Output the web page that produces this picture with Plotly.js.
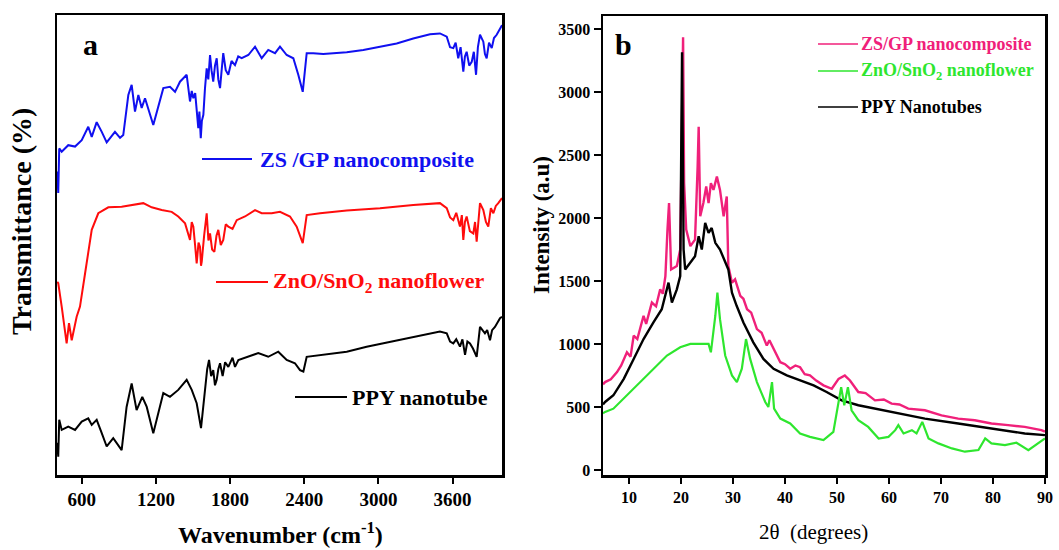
<!DOCTYPE html>
<html>
<head>
<meta charset="utf-8">
<script src="https://cdn.plot.ly/plotly-3.0.1.min.js"></script>
<style>html,body{margin:0;padding:0;background:#fff;}#chart{width:1059px;height:550px;}</style>
</head>
<body>
<div id="chart"></div>
<script>
// ---------- Panel a : FTIR (wavenumber, cm-1 ; transmittance, arbitrary offset %) ----------
const ftirBlueX = [402,410,418,438,491,546,600,653,681,721,762,802,869,910,936,977,1004,1031,1058,1085,1112,1179,1260,1314,1355,1395,1449,1462,1476,1490,1503,1518,1530,1543,1552,1563,1572,1584,1597,1611,1624,1638,1650,1664,1678,1692,1705,1719,1732,1745,1765,1786,1812,1840,1866,1894,1948,2002,2056,2109,2164,2204,2258,2312,2352,2388,2420,2473,2554,2635,2744,2878,3013,3148,3282,3418,3498,3553,3580,3606,3625,3646,3665,3687,3700,3714,3735,3755,3772,3790,3805,3822,3849,3862,3876,3895,3917,3935,3957,3984,4000];
const ftirBlueT = [66,61.3,71,70.3,71.7,71.4,72.8,75.7,73.5,76.7,74.6,72.3,74.6,73.3,73.9,82.6,84.8,79,82.6,79.8,81.9,76.1,84.1,84.4,83.3,85.5,87,84,81.2,83.5,81.9,83,79,75.4,79,73.2,77,78.3,84,88.4,86,91.3,88,85.5,89,90.6,86,84.1,88,91.7,88,87,90,89.1,91,90.6,91.3,93.1,90.6,92.4,91.7,93.1,91.3,90.6,87,83.3,91.7,91.7,91.5,91.7,91.9,92.4,93.1,93.8,94.9,95.8,96,95.3,93,92.8,94,90.6,93,87.7,91,92,89,89.8,92,87,93,95.7,94.2,91.5,90.6,94,92.8,95,95.7,97.1,97.8];

const ftirRedX = [402,410,438,478,497,519,559,586,627,681,734,815,923,1031,1098,1166,1247,1328,1381,1436,1456,1476,1490,1503,1517,1530,1545,1557,1565,1571,1590,1611,1625,1638,1655,1673,1690,1705,1725,1745,1765,1786,1820,1854,1921,2002,2056,2137,2204,2285,2339,2388,2420,2528,2744,3013,3282,3498,3553,3580,3606,3630,3660,3675,3687,3700,3714,3740,3768,3782,3795,3810,3822,3849,3870,3889,3910,3930,3950,3970,4000];
const ftirRedT = [42,41.7,36.6,28.6,33,29.3,34.4,36.6,43.8,53.3,56.9,58.2,58.3,58.7,59.1,58.2,57.6,57.2,56.2,54.7,53,51.1,55,54,50,46,50.5,49.6,45.5,46.4,52,56.9,51,52.5,49,48.5,52,53.3,50,51.1,54.5,54,53.5,55.4,56.2,57.6,56.9,56.9,57.2,56.2,54,50.4,56.5,56.9,57.5,58,58.7,59.1,58,56,55.4,57,54,56.5,51.1,55,56.2,53,52.5,55,50.7,56,59.1,57.6,55,54,58,56.9,58.5,59.1,60.2];

const ftirBlackX = [402,410,418,438,491,546,600,653,681,721,762,802,855,923,963,1004,1044,1090,1126,1179,1260,1314,1381,1449,1490,1530,1565,1597,1615,1630,1647,1664,1678,1692,1705,1719,1740,1760,1786,1820,1840,1867,1948,2028,2109,2190,2258,2325,2366,2393,2420,2528,2744,2905,3094,3282,3498,3553,3580,3606,3630,3660,3680,3701,3720,3741,3765,3795,3810,3822,3862,3880,3903,3920,3943,3984,4000];
const ftirBlackT = [7,4,12,9.8,10.5,9.8,11.6,12.3,10.9,12,9.1,6.2,8,5.4,14.8,19.9,14.1,17,14.8,9.1,17.8,17,18.5,20.7,18.5,15.6,10.2,18.5,23,25,21.5,22.8,19.5,20.7,23,24.3,21.5,24.5,23.5,25.5,23.5,25,25.7,26.5,25.7,26.8,25,24.3,22.8,22.5,25.7,26.1,26.8,27.9,29,30.1,31.2,30.8,29,28.6,29.5,27.9,29.5,26.1,29,28.6,27.5,25.7,30,32.2,30.8,31.5,29.3,31.5,32.2,34.1,34.4];

const ftirTicks = [600,1200,1800,2400,3000,3600];
const ftirNames = ['ZS /GP nanocomposite','ZnO/SnO<sub>2</sub> nanoflower','PPY nanotube'];

// ---------- Panel b : XRD (2θ, degrees ; intensity, a.u) ----------
const xrdPinkX = [5,5.4,6.5,7.7,8.5,9.6,10.3,10.9,11.6,12.8,13.3,14.4,15.2,16,16.5,17,17.4,17.7,18.1,19.2,19.85,20.2,20.4,20.6,21,21.8,22.7,23.2,23.4,23.7,24.3,24.85,25.3,25.75,26.25,26.9,27.5,28.2,28.8,29.1,29.8,30.4,31,31.4,32,32.7,33.5,34.6,35.5,36.5,37,37.8,38.5,39.1,40,41,42,42.9,43.8,44.8,46,47.4,49,50.3,51.5,52.5,54.1,55.5,57.3,59,60.5,62,63.7,66.9,70.1,73.3,76.5,79.7,82.9,86.1,89.3,90];
const xrdPinkI = [680,698,720,777,830,935,900,1067,1040,1225,1160,1330,1300,1435,1400,1540,1909,2120,1593,1620,1751,2805,3437,2278,1909,1778,1830,2410,2726,2015,2120,2252,2120,2278,2225,2330,2225,2015,2172,1620,1488,1514,1430,1383,1360,1277,1250,1119,1090,988,1030,962,900,856,840,804,830,816,760,751,710,672,645,724,750,711,619,610,553,560,527,520,487,474,434,408,395,369,356,342,316,305];

const xrdBlackX = [5,5.4,7,9,10.9,12.8,14.7,16.3,17.6,18.25,19.2,19.85,20.2,20.5,20.8,21.8,22.7,23.4,24,24.65,25.3,25.9,26.6,27.5,28.5,29.1,29.8,30.7,32,33.9,35.85,37.8,40.35,42.9,45.5,48,50.9,54.1,57.3,60.5,66.9,73.3,79.7,86.1,90];
const xrdBlackI = [520,540,593,724,882,1040,1172,1277,1488,1330,1435,1540,3318,1751,1593,1646,1698,1857,1751,1962,1883,1922,1804,1751,1646,1593,1409,1304,1172,1014,882,804,751,711,672,619,553,514,487,461,408,369,329,290,277];

const xrdGreenX = [5,5.4,7,9.6,12.2,14.7,17.3,19.85,21.8,23.7,25.3,25.75,26.1,26.6,27,27.5,28.5,29.8,30.75,31.7,32.5,33.3,34.6,36.2,36.8,37.5,37.9,39.1,41,42.9,44.8,47.4,49.3,50.3,50.8,51.4,52.1,52.8,54.1,56,58,59.9,61.2,61.8,62.8,64.4,65.3,66.4,67.6,69.5,72.1,74.6,77.2,78.5,79.7,82.3,84.5,86.8,88.7,90];
const xrdGreenI = [450,461,487,593,698,804,909,975,1001,1001,1001,935,1040,1225,1409,1198,909,751,698,804,1040,882,698,540,500,698,487,408,369,290,263,237,303,553,658,514,658,474,395,342,250,263,316,356,290,316,290,382,250,211,171,145,158,250,211,198,216,158,211,250];

const xrdNames = ['ZS/GP nanocomposite','ZnO/SnO<sub>2</sub> nanoflower','PPY Nanotubes'];

// ---------- styling ----------
const W = 1059, H = 550;
const px = v => v / W, py = v => 1 - v / H;
const SERIF = 'Liberation Serif, Times New Roman, serif';
const cBlue = '#1010f0', cRed = '#ff0c0c', cBlk = '#000000';
const cPink = '#f0207a', cGreen = '#2ee62e';

const traces = [
  {x: ftirBlueX, y: ftirBlueT, xaxis: 'x', yaxis: 'y', mode: 'lines', name: 'ZS /GP nanocomposite', line: {color: cBlue, width: 2}},
  {x: ftirRedX, y: ftirRedT, xaxis: 'x', yaxis: 'y', mode: 'lines', name: 'ZnO/SnO2 nanoflower', line: {color: cRed, width: 2}},
  {x: ftirBlackX, y: ftirBlackT, xaxis: 'x', yaxis: 'y', mode: 'lines', name: 'PPY nanotube', line: {color: cBlk, width: 2}},
  {x: xrdPinkX, y: xrdPinkI, xaxis: 'x2', yaxis: 'y2', mode: 'lines', name: 'ZS/GP nanocomposite', line: {color: cPink, width: 2.4}},
  {x: xrdBlackX, y: xrdBlackI, xaxis: 'x2', yaxis: 'y2', mode: 'lines', name: 'PPY Nanotubes', line: {color: cBlk, width: 2.4}},
  {x: xrdGreenX, y: xrdGreenI, xaxis: 'x2', yaxis: 'y2', mode: 'lines', name: 'ZnO/SnO2 nanoflower', line: {color: cGreen, width: 2.2}}
];

const frame = {showline: true, mirror: true, linecolor: '#000', linewidth: 2.5, showgrid: false, zeroline: false};

const layout = {
  width: W, height: H,
  margin: {l: 0, r: 0, t: 0, b: 0},
  paper_bgcolor: '#fff', plot_bgcolor: '#fff',
  showlegend: false,
  xaxis: Object.assign({}, frame, {
    domain: [px(57), px(502)], range: [400, 4000], anchor: 'y',
    tickmode: 'array', tickvals: ftirTicks, ticktext: ftirTicks.map(String),
    ticks: 'outside', ticklen: 6, tickwidth: 2, tickcolor: '#000',
    tickfont: {family: SERIF, size: 19, color: '#000', weight: 'bold'}
  }),
  yaxis: Object.assign({}, frame, {
    domain: [py(475), py(15)], range: [0, 100], anchor: 'x',
    showticklabels: false, ticks: ''
  }),
  xaxis2: Object.assign({}, frame, {
    domain: [px(603), px(1045)], range: [5, 90], anchor: 'y2',
    tick0: 10, dtick: 10,
    ticks: 'outside', ticklen: 6, tickwidth: 2, tickcolor: '#000',
    tickfont: {family: SERIF, size: 16, color: '#000', weight: 'bold'}
  }),
  yaxis2: Object.assign({}, frame, {
    domain: [py(475), py(16)], range: [-40, 3606], anchor: 'x2',
    tick0: 0, dtick: 500,
    ticks: 'outside', ticklen: 7, tickwidth: 2, tickcolor: '#000',
    tickfont: {family: SERIF, size: 16, color: '#000', weight: 'bold'}
  }),
  shapes: [
    {type: 'line', xref: 'paper', yref: 'paper', x0: px(202), x1: px(252), y0: py(159), y1: py(159), line: {color: cBlue, width: 2}},
    {type: 'line', xref: 'paper', yref: 'paper', x0: px(216), x1: px(268), y0: py(282), y1: py(282), line: {color: cRed, width: 2}},
    {type: 'line', xref: 'paper', yref: 'paper', x0: px(295), x1: px(347), y0: py(397), y1: py(397), line: {color: cBlk, width: 2}},
    {type: 'line', xref: 'paper', yref: 'paper', x0: px(818), x1: px(858), y0: py(44), y1: py(44), line: {color: cPink, width: 1.5}},
    {type: 'line', xref: 'paper', yref: 'paper', x0: px(818), x1: px(858), y0: py(71), y1: py(71), line: {color: cGreen, width: 1.5}},
    {type: 'line', xref: 'paper', yref: 'paper', x0: px(818), x1: px(858), y0: py(107), y1: py(107), line: {color: cBlk, width: 1.5}}
  ],
  annotations: [
    {text: 'a', xref: 'paper', yref: 'paper', x: px(90.5), y: py(45), xanchor: 'center', yanchor: 'middle', showarrow: false, font: {family: SERIF, size: 30, color: '#000', weight: 'bold'}},
    {text: 'b', xref: 'paper', yref: 'paper', x: px(623.5), y: py(45), xanchor: 'center', yanchor: 'middle', showarrow: false, font: {family: SERIF, size: 30, color: '#000', weight: 'bold'}},
    {text: ftirNames[0], xref: 'paper', yref: 'paper', x: px(258), y: py(159), xanchor: 'left', yanchor: 'middle', showarrow: false, font: {family: SERIF, size: 22, color: cBlue, weight: 'bold'}},
    {text: ftirNames[1], xref: 'paper', yref: 'paper', x: px(271), y: py(282), xanchor: 'left', yanchor: 'middle', showarrow: false, font: {family: SERIF, size: 22, color: cRed, weight: 'bold'}},
    {text: ftirNames[2], xref: 'paper', yref: 'paper', x: px(350), y: py(397), xanchor: 'left', yanchor: 'middle', showarrow: false, font: {family: SERIF, size: 22, color: cBlk, weight: 'bold'}},
    {text: xrdNames[0], xref: 'paper', yref: 'paper', x: px(859), y: py(44), xanchor: 'left', yanchor: 'middle', showarrow: false, font: {family: SERIF, size: 18, color: cPink, weight: 'bold'}},
    {text: xrdNames[1], xref: 'paper', yref: 'paper', x: px(859), y: py(71), xanchor: 'left', yanchor: 'middle', showarrow: false, font: {family: SERIF, size: 18, color: cGreen, weight: 'bold'}},
    {text: xrdNames[2], xref: 'paper', yref: 'paper', x: px(859), y: py(107), xanchor: 'left', yanchor: 'middle', showarrow: false, font: {family: SERIF, size: 18, color: cBlk, weight: 'bold'}},
    {text: 'Transmittance (%)', xref: 'paper', yref: 'paper', x: px(22), y: py(222), xanchor: 'center', yanchor: 'middle', textangle: -90, showarrow: false, font: {family: SERIF, size: 28, color: '#000', weight: 'bold'}},
    {text: 'Wavenumber (cm<sup>-1</sup>)', xref: 'paper', yref: 'paper', x: px(280), y: py(533), xanchor: 'center', yanchor: 'middle', showarrow: false, font: {family: SERIF, size: 24, color: '#000', weight: 'bold'}},
    {text: 'Intensity (a.u)', xref: 'paper', yref: 'paper', x: px(541), y: py(225), xanchor: 'center', yanchor: 'middle', textangle: -90, showarrow: false, font: {family: SERIF, size: 23, color: '#000', weight: 'bold'}},
    {text: '2θ  (degrees)', xref: 'paper', yref: 'paper', x: px(813), y: py(532), xanchor: 'center', yanchor: 'middle', showarrow: false, font: {family: SERIF, size: 21, color: '#000'}}
  ]
};

Plotly.newPlot('chart', traces, layout, {displayModeBar: false, staticPlot: true});
</script>
</body>
</html>
